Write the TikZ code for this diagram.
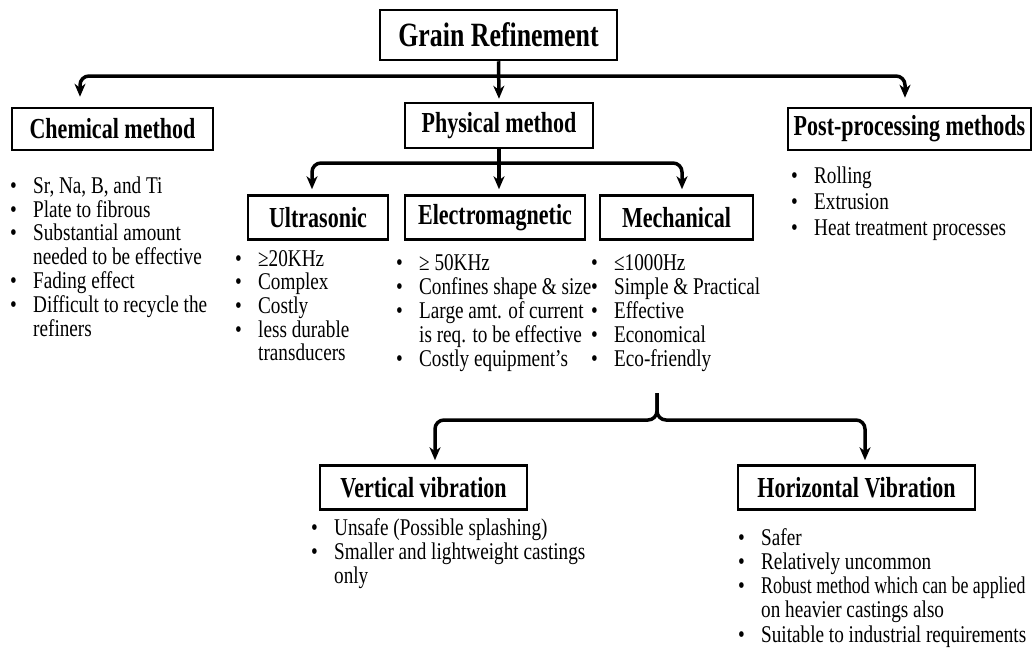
\documentclass[tikz,border=0pt]{standalone}
\usepackage{fontspec}
\setmainfont{Liberation Serif}[FakeStretch=0.8]
\newfontfamily\headfont{Liberation Serif}[FakeStretch=0.76]
\usepackage{tikz}
\usetikzlibrary{arrows.meta}
\tikzset{
  box/.style={draw, line width=2.5pt, inner sep=0pt, minimum height=44pt, font=\headfont\fontsize{29}{29}\selectfont\bfseries},
  branch/.style={line width=3.5pt, rounded corners=9pt, -{Stealth[length=13pt,width=11pt,inset=4pt]}},
  lst/.style={anchor=base west, inner sep=0pt, font=\fontsize{24}{24}\selectfont},
}
\newcommand{\bl}{\makebox[23pt][l]{\textbullet}}
\newcommand{\nb}{\hspace*{23pt}}

\begin{document}
\begin{tikzpicture}[x=1pt,y=-1pt]
\useasboundingbox (0,0) rectangle (1034,651);

% headings
\node[box, minimum width=237pt, minimum height=50pt, font=\headfont\fontsize{34}{34}\selectfont\bfseries] (title) at (498.5,35) {Grain Refinement};
\node[box, minimum width=201pt, minimum height=42pt] (chem) at (112.5,129) {Chemical method};
\node[box, minimum width=188pt, minimum height=45pt] (phys) at (499,125.5) {Physical method};
\node[box, minimum width=243pt, minimum height=42pt] (post) at (909.5,129) {Post-processing methods};

\node[box, minimum width=140pt] (ultra) at (318,217.5) {Ultrasonic};
\node[box, minimum width=180pt] (elec) at (495,217.5) {Electromagnetic};
\node[box, minimum width=153pt] (mech) at (676.5,217.5) {Mechanical};

\node[box, minimum width=207pt] (vert) at (423.5,487.5) {Vertical vibration};
\node[box, minimum width=237pt] (horiz) at (856.5,487.5) {Horizontal Vibration};

% bullet lists
\node[lst, font=\fontsize{24}{23.7}\selectfont] (chemlist) at (10,193) {\begin{tabular}[t]{@{}l@{}}
\bl Sr, Na, B, and Ti\\
\bl Plate to fibrous\\
\bl Substantial amount\\
\nb needed to be effective\\
\bl Fading effect\\
\bl Difficult to recycle the\\
\nb refiners
\end{tabular}};
\node[lst, font=\fontsize{24}{23.5}\selectfont] (ultralist) at (235,266) {\begin{tabular}[t]{@{}l@{}}
\bl ≥20KHz\\
\bl Complex\\
\bl Costly\\
\bl less durable\\
\nb transducers
\end{tabular}};
\node[lst] (eleclist) at (396,270) {\begin{tabular}[t]{@{}l@{}}
\bl ≥ 50KHz\\
\bl Confines shape \& size\\
\bl Large amt. of current\\
\nb is req. to be effective\\
\bl Costly equipment's
\end{tabular}};
\node[lst] (mechlist) at (591,270) {\begin{tabular}[t]{@{}l@{}}
\bl ≤1000Hz\\
\bl Simple \& Practical\\
\bl Effective\\
\bl Economical\\
\bl Eco-friendly
\end{tabular}};
\node[lst, font=\fontsize{24}{26}\selectfont] (postlist) at (791,183) {\begin{tabular}[t]{@{}l@{}}
\bl Rolling\\
\bl Extrusion\\
\bl Heat treatment processes
\end{tabular}};
\node[lst] (vertlist) at (311,535) {\begin{tabular}[t]{@{}l@{}}
\bl Unsafe (Possible splashing)\\
\bl Smaller and lightweight castings\\
\nb only
\end{tabular}};
\node[lst, font=\fontsize{24}{24.3}\selectfont] (horizlist) at (738,545) {\begin{tabular}[t]{@{}l@{}}
\bl Safer\\
\bl Relatively uncommon\\
\bl \scalebox{0.93}[1]{Robust method which can be applied}\\
\nb on heavier castings also\\
\bl Suitable to industrial requirements
\end{tabular}};

% branch points
\coordinate (top) at (498.5,76);
\coordinate (mid) at (499,163);
\coordinate (brace) at (657,393);

% connectors
\draw[branch] (title.south) -- ([yshift=3pt]phys.north);
\draw[branch] (top) -| ([xshift=-32.5pt,yshift=10pt]chem.north);
\draw[branch] (top) -| ([xshift=-4.5pt,yshift=9pt]post.north);

\draw[branch] (phys.south) -- ([yshift=5pt]phys.south |- elec.north);
\draw[branch] (mid) -| ([xshift=-6pt,yshift=5pt]ultra.north);
\draw[branch] (mid) -| ([xshift=5.5pt,yshift=5pt]mech.north);

% brace under the mechanical list
\draw[branch] (brace) -- ++(0,27) -| ([xshift=11.5pt,yshift=4pt]vert.north);
\draw[branch] (brace) -- ++(0,27) -| ([xshift=8.5pt,yshift=4pt]horiz.north);
\end{tikzpicture}
\end{document}
